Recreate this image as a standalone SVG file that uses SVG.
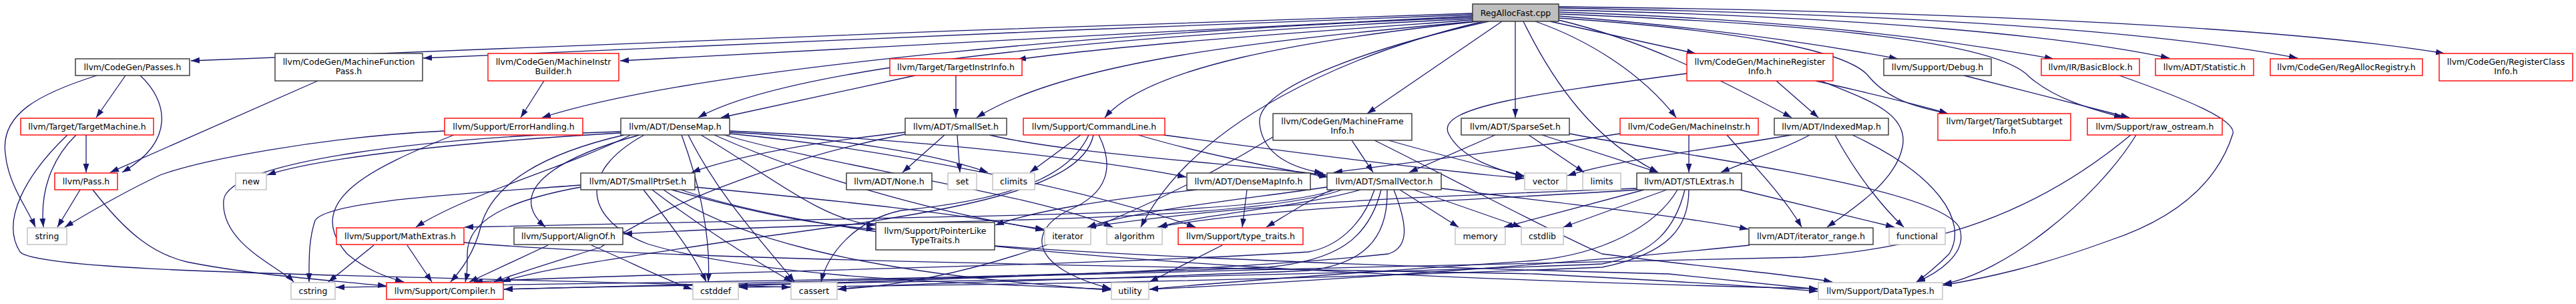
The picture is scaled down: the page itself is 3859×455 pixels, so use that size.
<svg xmlns="http://www.w3.org/2000/svg" width="3859" height="455" viewBox="0 0 3859 455">
<defs>
<marker id="ah" markerUnits="userSpaceOnUse" markerWidth="14" markerHeight="10" viewBox="0 0 14 10" refX="13" refY="5" orient="auto"><path d="M0,0.5 L13,5 L0,9.5 z" fill="#191970"/></marker>
<style>
.e path{fill:none;stroke:#191970;stroke-width:1.3;marker-end:url(#ah)}
.n rect{fill:#fff;stroke-width:1.4}
.b rect{stroke:#333}
.r rect{stroke:#ff0000}
.g rect{stroke:#bfbfbf}
.root rect{fill:#bfbfbf;stroke:#333}
.n text{font-family:"DejaVu Sans","Liberation Sans",sans-serif;font-size:12.5px;text-anchor:middle;fill:#000}
</style>
</defs>
<rect width="3859" height="455" fill="#fff"/>
<g id="edges" class="e">
<path d="M2206,20 C1600,40 700,70 286,91"/>
<path d="M2206,22 C1700,40 1000,70 634,87"/>
<path d="M2206,24 C1800,45 1200,75 929,91"/>
<path d="M2206,26 C1700,45 1050,100 812,176"/>
<path d="M2206,28 C1750,50 1200,90 1046,176"/>
<path d="M2206,30 C2000,45 1700,65 1524,89"/>
<path d="M2210,32 C1900,60 1600,90 1463,176"/>
<path d="M2214,32 C1950,60 1720,100 1655,176"/>
<path d="M2222,32 C2020,80 1790,180 1709,340"/>
<path d="M2230,32 C2060,70 1880,130 1887,185 C1892,235 1940,252 1982,259"/>
<path d="M2250,32 L2048,170"/>
<path d="M2270,32 L2270,176"/>
<path d="M2282,32 C2330,130 2390,210 2484,258"/>
<path d="M2300,32 C2380,60 2460,110 2511,176"/>
<path d="M2322,32 L2540,80"/>
<path d="M2335,30 C2460,60 2560,110 2684,176"/>
<path d="M2335,27 C2600,45 2770,75 2800,115 C2830,150 2870,160 2918,170"/>
<path d="M2335,24 C2550,40 2720,65 2843,88"/>
<path d="M2335,21 C2700,35 2990,60 3040,115 C3080,150 3140,165 3180,176"/>
<path d="M2335,18 C2700,30 2920,60 3076,88"/>
<path d="M2335,15 C2800,25 3100,55 3250,87"/>
<path d="M2335,12 C2900,22 3250,50 3442,87"/>
<path d="M2335,10 C3000,18 3450,45 3662,80"/>
<path d="M188,113 L144,176"/>
<path d="M210,113 C250,150 265,210 183,258"/>
<path d="M145,113 C60,140 0,170 8,230 C12,275 40,310 53,340"/>
<path d="M476,121 L165,258"/>
<path d="M129,202 L129,258"/>
<path d="M114,202 C75,240 60,290 65,340"/>
<path d="M101,202 C40,260 0,330 30,377 C60,410 600,412 1184,430"/>
<path d="M120,284 L86,340"/>
<path d="M139,284 C190,350 230,380 280,392 C380,412 500,420 579,428"/>
<path d="M666,196 C480,205 300,240 240,262 C180,290 130,320 97,340"/>
<path d="M680,202 C560,250 450,300 520,380 C550,405 580,415 605,422"/>
<path d="M815,121 L780,176"/>
<path d="M1432,113 L1432,176"/>
<path d="M1371,113 C1250,140 1150,160 1080,176"/>
<path d="M930,199 C700,212 480,235 400,262"/>
<path d="M930,197 C650,205 340,240 335,300 C330,365 420,400 440,422"/>
<path d="M935,202 C770,240 730,300 720,340 C710,380 690,405 675,422"/>
<path d="M945,202 C850,250 700,290 623,340"/>
<path d="M958,202 C820,240 760,290 817,340"/>
<path d="M965,202 C860,260 880,330 970,365 C1150,420 1500,425 1664,433"/>
<path d="M1021,202 C1050,280 1065,360 1061,422"/>
<path d="M1031,202 C1080,300 1150,370 1190,422"/>
<path d="M1050,202 C1150,260 1230,330 1311,337"/>
<path d="M1070,202 C1200,260 1400,320 1564,343"/>
<path d="M1085,202 C1250,250 1550,290 1667,340"/>
<path d="M1093,200 C1350,225 1650,290 1791,340"/>
<path d="M1093,198 C1250,205 1400,230 1480,258"/>
<path d="M1093,196 C1400,210 1650,240 1777,265"/>
<path d="M870,277 C700,290 490,300 472,330 C462,360 463,390 463,422"/>
<path d="M870,280 C760,300 700,330 700,380 C700,400 700,410 697,422"/>
<path d="M964,284 C1000,330 1040,380 1058,422"/>
<path d="M977,284 C1050,340 1130,390 1187,422"/>
<path d="M1006,284 C1100,310 1200,335 1311,343"/>
<path d="M1041,280 C1250,300 1450,320 1564,345"/>
<path d="M994,284 C1100,360 1300,400 1500,420 C1580,428 1620,432 1664,434"/>
<path d="M1020,284 C1300,380 2000,415 2723,432"/>
<path d="M1356,198 C1200,215 1100,235 1036,258"/>
<path d="M1415,202 L1352,258"/>
<path d="M1434,202 L1438,258"/>
<path d="M1482,202 C1600,230 1850,245 1987,262"/>
<path d="M1356,201 C1200,230 1000,300 900,370 C820,395 770,410 740,422"/>
<path d="M1619,202 L1543,258"/>
<path d="M1705,202 C1800,230 1900,250 1989,265"/>
<path d="M1743,202 C1950,230 2150,255 2283,267"/>
<path d="M1646,202 C1670,250 1660,290 1600,315 C1540,345 1540,400 1664,432"/>
<path d="M1631,202 C1600,270 1500,300 1350,315 C1280,330 1240,380 1230,422"/>
<path d="M1638,202 C1620,290 1400,320 1100,360 C900,390 800,405 752,422"/>
<path d="M2025,210 L2057,258"/>
<path d="M2080,210 C2150,230 2230,250 2283,263"/>
<path d="M2059,210 C2200,280 2330,350 2400,380 C2550,400 2680,410 2745,422"/>
<path d="M1907,205 C1750,300 1500,420 1255,433"/>
<path d="M2240,202 L2111,258"/>
<path d="M2290,202 L2373,258"/>
<path d="M2310,202 L2484,258"/>
<path d="M2351,200 C2560,240 2900,280 2935,340 C2950,380 2900,410 2871,422"/>
<path d="M2530,202 L2530,258"/>
<path d="M2587,202 C2620,240 2670,290 2699,340"/>
<path d="M2427,200 C2300,220 2100,245 1998,258"/>
<path d="M2661,121 L2724,176"/>
<path d="M2720,121 C2800,140 2870,155 2918,170"/>
<path d="M2728,121 C2800,150 2860,170 2850,220 C2840,270 2780,310 2737,340"/>
<path d="M2527,110 C2300,140 2150,160 2170,200 C2190,240 2250,255 2283,265"/>
<path d="M2684,202 C2550,225 2420,240 2348,263"/>
<path d="M2711,202 C2680,220 2620,240 2578,258"/>
<path d="M2749,202 C2780,260 2820,310 2852,340"/>
<path d="M2775,202 C2900,260 2950,330 2920,380 C2900,400 2885,412 2871,422"/>
<path d="M2463,284 L2253,340"/>
<path d="M2497,284 L2342,340"/>
<path d="M2606,284 L2838,340"/>
<path d="M2452,282 C2200,292 1900,300 1629,340"/>
<path d="M2455,284 C2200,300 1900,310 1734,340"/>
<path d="M2513,284 C2480,340 2400,380 2300,390 C2000,410 1800,425 1722,433"/>
<path d="M2524,284 C2510,340 2480,380 2400,395 C1800,420 1000,425 755,433"/>
<path d="M2530,284 C2530,340 2500,380 2400,400 C1800,425 1300,428 1107,430"/>
<path d="M2097,284 L2185,340"/>
<path d="M2118,284 L2279,340"/>
<path d="M2159,282 C2300,300 2500,320 2619,343"/>
<path d="M2000,284 C1900,320 1500,322 1300,327 C1000,333 800,336 696,340"/>
<path d="M2010,284 C1900,325 1500,330 1300,335 C1100,342 1000,346 934,350"/>
<path d="M2059,284 C2040,340 2000,370 1960,377 C1600,400 900,410 710,422"/>
<path d="M2069,284 C2050,360 2000,390 1900,400 C1400,420 800,425 503,430"/>
<path d="M2078,284 C2080,360 2040,395 1960,405 C1600,420 1300,425 1255,433"/>
<path d="M2088,284 C2110,340 2110,370 2080,380 C1800,410 1300,420 1107,428"/>
<path d="M1995,284 C1960,300 1930,320 1897,340"/>
<path d="M2038,284 C1950,310 1800,320 1736,340"/>
<path d="M1988,280 C1850,300 1700,315 1629,340"/>
<path d="M1868,284 L1861,340"/>
<path d="M1793,284 C1650,300 1550,315 1491,337"/>
<path d="M1490,368 C1800,390 2300,405 2500,410 C2600,420 2680,428 2723,433"/>
<path d="M1831,367 L1722,422"/>
<path d="M560,367 L492,422"/>
<path d="M610,367 L647,422"/>
<path d="M695,363 C1000,390 1800,400 2300,410 C2500,420 2650,430 2723,436"/>
<path d="M821,367 L703,422"/>
<path d="M886,367 C950,395 1000,420 1037,433"/>
<path d="M2621,367 C2400,390 2000,420 1722,433"/>
<path d="M3200,202 C3140,300 3000,410 2911,425"/>
<path d="M3192,202 C3050,320 2900,370 2700,385 C2000,400 1000,425 755,433"/>
<path d="M3175,113 C3280,150 3350,180 3345,200 C3320,280 3250,330 3160,360 C3050,400 2980,415 2911,427"/>
<path d="M2942,113 L3190,176"/>
</g>
<g id="node-RAF" class="n root"><rect x="2206" y="6" width="129" height="26"/><text x="2270.5" y="23.5">RegAllocFast.cpp</text></g>
<g id="node-Passes" class="n b"><rect x="113" y="88" width="171" height="25"/><text x="198.5" y="105">llvm/CodeGen/Passes.h</text></g>
<g id="node-MFPass" class="n b"><rect x="412" y="80" width="221" height="41"/><text x="522.5" y="97">llvm/CodeGen/MachineFunction</text><text x="522.5" y="111">Pass.h</text></g>
<g id="node-MIBuilder" class="n r"><rect x="731" y="80" width="196" height="41"/><text x="829" y="97">llvm/CodeGen/MachineInstr</text><text x="829" y="111">Builder.h</text></g>
<g id="node-TII" class="n r"><rect x="1333" y="88" width="198" height="25"/><text x="1432" y="105">llvm/Target/TargetInstrInfo.h</text></g>
<g id="node-MRI" class="n r"><rect x="2527" y="80" width="219" height="41"/><text x="2636.5" y="97">llvm/CodeGen/MachineRegister</text><text x="2636.5" y="111">Info.h</text></g>
<g id="node-Debug" class="n b"><rect x="2822" y="88" width="161" height="25"/><text x="2902.5" y="105">llvm/Support/Debug.h</text></g>
<g id="node-BasicBlock" class="n r"><rect x="3058" y="88" width="147" height="25"/><text x="3131.5" y="105">llvm/IR/BasicBlock.h</text></g>
<g id="node-Statistic" class="n r"><rect x="3229" y="88" width="147" height="25"/><text x="3302.5" y="105">llvm/ADT/Statistic.h</text></g>
<g id="node-RAR" class="n r"><rect x="3401" y="88" width="228" height="25"/><text x="3515" y="105">llvm/CodeGen/RegAllocRegistry.h</text></g>
<g id="node-RCI" class="n r"><rect x="3654" y="80" width="200" height="41"/><text x="3754" y="97">llvm/CodeGen/RegisterClass</text><text x="3754" y="111">Info.h</text></g>
<g id="node-TM" class="n r"><rect x="31" y="177" width="199" height="25"/><text x="130.5" y="194">llvm/Target/TargetMachine.h</text></g>
<g id="node-EH" class="n r"><rect x="666" y="177" width="207" height="25"/><text x="769.5" y="194">llvm/Support/ErrorHandling.h</text></g>
<g id="node-DM" class="n b"><rect x="930" y="177" width="163" height="25"/><text x="1011.5" y="194">llvm/ADT/DenseMap.h</text></g>
<g id="node-SS" class="n b"><rect x="1356" y="177" width="152" height="25"/><text x="1432" y="194">llvm/ADT/SmallSet.h</text></g>
<g id="node-CL" class="n r"><rect x="1533" y="177" width="212" height="25"/><text x="1639" y="194">llvm/Support/CommandLine.h</text></g>
<g id="node-MFI" class="n b"><rect x="1907" y="170" width="208" height="40"/><text x="2011" y="186">llvm/CodeGen/MachineFrame</text><text x="2011" y="200">Info.h</text></g>
<g id="node-SpS" class="n b"><rect x="2189" y="177" width="162" height="25"/><text x="2270" y="194">llvm/ADT/SparseSet.h</text></g>
<g id="node-MI" class="n r"><rect x="2427" y="177" width="207" height="25"/><text x="2530.5" y="194">llvm/CodeGen/MachineInstr.h</text></g>
<g id="node-IM" class="n b"><rect x="2658" y="177" width="171" height="25"/><text x="2743.5" y="194">llvm/ADT/IndexedMap.h</text></g>
<g id="node-TSI" class="n r"><rect x="2903" y="170" width="199" height="40"/><text x="3002.5" y="186">llvm/Target/TargetSubtarget</text><text x="3002.5" y="200">Info.h</text></g>
<g id="node-RO" class="n r"><rect x="3127" y="177" width="202" height="25"/><text x="3228" y="194">llvm/Support/raw_ostream.h</text></g>
<g id="node-Pass" class="n r"><rect x="82" y="259" width="94" height="25"/><text x="129" y="276">llvm/Pass.h</text></g>
<g id="node-new" class="n g"><rect x="353" y="259" width="46" height="25"/><text x="376" y="276">new</text></g>
<g id="node-SPS" class="n b"><rect x="870" y="259" width="171" height="25"/><text x="955.5" y="276">llvm/ADT/SmallPtrSet.h</text></g>
<g id="node-None" class="n b"><rect x="1268" y="259" width="128" height="25"/><text x="1332" y="276">llvm/ADT/None.h</text></g>
<g id="node-set" class="n g"><rect x="1420" y="259" width="43" height="25"/><text x="1441.5" y="276">set</text></g>
<g id="node-climits" class="n g"><rect x="1487" y="259" width="63" height="25"/><text x="1518.5" y="276">climits</text></g>
<g id="node-DMI" class="n b"><rect x="1778" y="259" width="185" height="25"/><text x="1870.5" y="276">llvm/ADT/DenseMapInfo.h</text></g>
<g id="node-SV" class="n b"><rect x="1988" y="259" width="171" height="25"/><text x="2073.5" y="276">llvm/ADT/SmallVector.h</text></g>
<g id="node-vector" class="n g"><rect x="2284" y="259" width="63" height="25"/><text x="2315.5" y="276">vector</text></g>
<g id="node-limits" class="n g"><rect x="2371" y="259" width="57" height="25"/><text x="2399.5" y="276">limits</text></g>
<g id="node-STL" class="n b"><rect x="2452" y="259" width="157" height="25"/><text x="2530.5" y="276">llvm/ADT/STLExtras.h</text></g>
<g id="node-string" class="n g"><rect x="41" y="341" width="59" height="25"/><text x="70.5" y="358">string</text></g>
<g id="node-ME" class="n r"><rect x="504" y="341" width="191" height="25"/><text x="599.5" y="358">llvm/Support/MathExtras.h</text></g>
<g id="node-AO" class="n b"><rect x="770" y="341" width="163" height="25"/><text x="851.5" y="358">llvm/Support/AlignOf.h</text></g>
<g id="node-PLTT" class="n b"><rect x="1312" y="333" width="178" height="41"/><text x="1401" y="350">llvm/Support/PointerLike</text><text x="1401" y="364">TypeTraits.h</text></g>
<g id="node-iterator" class="n g"><rect x="1565" y="341" width="69" height="25"/><text x="1599.5" y="358">iterator</text></g>
<g id="node-algorithm" class="n g"><rect x="1658" y="341" width="83" height="25"/><text x="1699.5" y="358">algorithm</text></g>
<g id="node-TT" class="n r"><rect x="1765" y="341" width="187" height="25"/><text x="1858.5" y="358">llvm/Support/type_traits.h</text></g>
<g id="node-memory" class="n g"><rect x="2180" y="341" width="75" height="25"/><text x="2217.5" y="358">memory</text></g>
<g id="node-cstdlib" class="n g"><rect x="2279" y="341" width="63" height="25"/><text x="2310.5" y="358">cstdlib</text></g>
<g id="node-IR" class="n b"><rect x="2620" y="341" width="186" height="25"/><text x="2713" y="358">llvm/ADT/iterator_range.h</text></g>
<g id="node-functional" class="n g"><rect x="2830" y="341" width="84" height="25"/><text x="2872" y="358">functional</text></g>
<g id="node-cstring" class="n g"><rect x="436" y="423" width="66" height="25"/><text x="469" y="440">cstring</text></g>
<g id="node-Compiler" class="n r"><rect x="579" y="423" width="175" height="25"/><text x="666.5" y="440">llvm/Support/Compiler.h</text></g>
<g id="node-cstddef" class="n g"><rect x="1038" y="423" width="68" height="25"/><text x="1072" y="440">cstddef</text></g>
<g id="node-cassert" class="n g"><rect x="1185" y="423" width="69" height="25"/><text x="1219.5" y="440">cassert</text></g>
<g id="node-utility" class="n g"><rect x="1665" y="423" width="56" height="25"/><text x="1693" y="440">utility</text></g>
<g id="node-DataTypes" class="n g"><rect x="2724" y="423" width="186" height="25"/><text x="2817" y="440">llvm/Support/DataTypes.h</text></g>
</svg>
